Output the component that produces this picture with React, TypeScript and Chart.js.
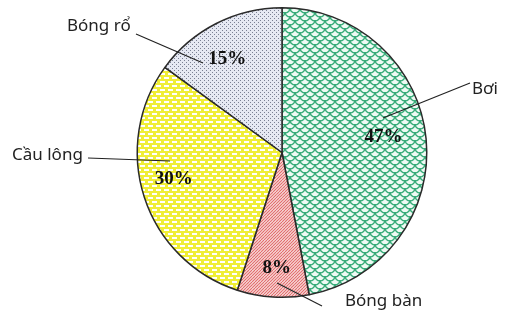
import React, { useEffect, useRef } from "react";
import { Chart, registerables } from "chart.js";

Chart.register(...registerables);

const categories = ["Bơi", "Bóng bàn", "Cầu lông", "Bóng rổ"];
const percentValues = [47, 8, 30, 15];
const percentLabels = ["47%", "8%", "30%", "15%"];

function tile(w: number, h: number, draw: (g: CanvasRenderingContext2D) => void) {
  const c = document.createElement("canvas");
  c.width = w;
  c.height = h;
  const g = c.getContext("2d") as CanvasRenderingContext2D;
  draw(g);
  const ctx = document.createElement("canvas").getContext("2d") as CanvasRenderingContext2D;
  return ctx.createPattern(c, "repeat") as CanvasPattern;
}

function greenScales() {
  return tile(10, 8, (g) => {
    g.fillStyle = "#effaf4";
    g.fillRect(0, 0, 10, 8);
    g.strokeStyle = "#36ab78";
    g.lineWidth = 1.4;
    const centers = [
      [5, 0],
      [0, 4],
      [10, 4],
      [0, -4],
      [10, -4],
      [5, 8],
    ];
    centers.forEach(([cx, cy]) => {
      g.beginPath();
      g.arc(cx, cy, 5, 0, Math.PI);
      g.stroke();
    });
  });
}

function redHatch() {
  return tile(6, 6, (g) => {
    g.fillStyle = "#fbe4e4";
    g.fillRect(0, 0, 6, 6);
    g.strokeStyle = "#e06a6a";
    g.lineWidth = 1.1;
    for (let k = -6; k <= 12; k += 3) {
      g.beginPath();
      g.moveTo(k, 6);
      g.lineTo(k + 6, 0);
      g.stroke();
    }
  });
}

function yellowBricks() {
  return tile(8, 8, (g) => {
    g.fillStyle = "#f0ee36";
    g.fillRect(0, 0, 8, 8);
    g.fillStyle = "#ffffff";
    g.fillRect(0, 1, 5, 2);
    g.fillRect(4, 5, 5, 2);
    g.fillRect(-4, 5, 5, 2);
  });
}

function blueDots() {
  return tile(4, 4, (g) => {
    g.fillStyle = "#e6e9f3";
    g.fillRect(0, 0, 4, 4);
    g.fillStyle = "#7a8093";
    g.fillRect(0, 0, 1, 1);
    g.fillRect(2, 2, 1, 1);
  });
}

const labelPlugin = {
  id: "pieLabels",
  afterDatasetsDraw(chart: any) {
    const ctx: CanvasRenderingContext2D = chart.ctx;
    const meta = chart.getDatasetMeta(0);
    const angleShift = [-3.5, -1, 4, -3.3];
    const radialFrac = [0.71, 0.8, 0.77, 0.75];
    ctx.save();
    ctx.strokeStyle = "#222";
    ctx.lineWidth = 1.2;
    const lines = [
      [470, 83, 383, 118],
      [322, 306, 277, 283],
      [88, 158, 170, 161],
      [136, 34, 203, 63],
    ];
    lines.forEach(([x1, y1, x2, y2]) => {
      ctx.beginPath();
      ctx.moveTo(x1, y1);
      ctx.lineTo(x2, y2);
      ctx.stroke();
    });
    ctx.fillStyle = "#111";
    ctx.font = "bold 19px 'Liberation Serif', 'Times New Roman', serif";
    ctx.textAlign = "center";
    ctx.textBaseline = "middle";
    meta.data.forEach((arc: any, i: number) => {
      const p = arc.getProps(["x", "y", "startAngle", "endAngle", "outerRadius"], true);
      const mid = (p.startAngle + p.endAngle) / 2 + (angleShift[i] * Math.PI) / 180;
      const r = p.outerRadius * radialFrac[i];
      ctx.fillText(percentLabels[i], p.x + r * Math.cos(mid), p.y + r * Math.sin(mid));
    });
    ctx.fillStyle = "#222";
    ctx.font = "17px 'Noto Sans', 'Open Sans', sans-serif";
    ctx.textAlign = "left";
    const catPos = [
      [472, 89],
      [345, 301],
      [12, 155],
      [67, 26],
    ];
    categories.forEach((c, i) => {
      ctx.fillText(c, catPos[i][0], catPos[i][1]);
    });
    ctx.restore();
  },
};

export default function App() {
  const ref = useRef<HTMLCanvasElement | null>(null);
  useEffect(() => {
    if (!ref.current) return;
    const chart = new Chart(ref.current, {
      type: "pie",
      data: {
        labels: categories,
        datasets: [
          {
            data: percentValues,
            backgroundColor: [greenScales(), redHatch(), yellowBricks(), blueDots()],
            borderColor: "#2a2a2a",
            borderWidth: 1.5,
          },
        ],
      },
      options: {
        responsive: false,
        animation: false,
        devicePixelRatio: 1,
        layout: { padding: { top: 7, bottom: 14, left: 136, right: 79 } },
        plugins: { legend: { display: false }, tooltip: { enabled: false } },
      },
      plugins: [labelPlugin],
    });
    return () => chart.destroy();
  }, []);
  return (
    <div style={{ position: "absolute", left: 0, top: 0, width: 507, height: 312, background: "#fff" }}>
      <canvas ref={ref} width={507} height={312} />
    </div>
  );
}
